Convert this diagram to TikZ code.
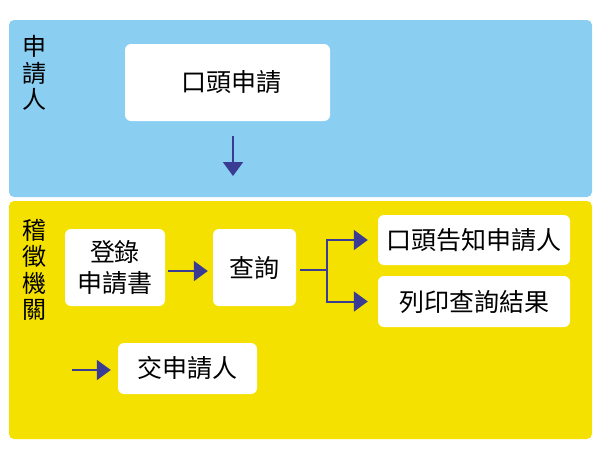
\documentclass[tikz,border=0pt]{standalone}
\usepackage{fontspec}
\setmainfont{Noto Sans CJK TC}
\usetikzlibrary{arrows.meta}
\definecolor{laneblue}{HTML}{8ACEF2}
\definecolor{laneyellow}{HTML}{F5E100}
\definecolor{arrowblue}{HTML}{3A3B92}
\tikzstyle{lane} = [draw=none, rounded corners=5pt]
\tikzstyle{box} = [fill=white, rounded corners=6pt, inner sep=0pt, align=center, font=\fontsize{25}{31}\selectfont]
\tikzstyle{lanelabel} = [inner sep=0pt, align=center, font=\fontsize{24}{26.5}\selectfont]
\tikzstyle{line} = [draw=arrowblue, line width=2pt, -{Triangle[length=14pt,width=20pt]}]

\begin{document}
\begin{tikzpicture}[x=1pt, y=-1pt]
    \useasboundingbox (0,0) rectangle (600,453);
    % lanes
    \fill [lane, laneblue] (9,20) rectangle (592,197);
    \fill [lane, laneyellow] (9,201) rectangle (592,439);
    \node [lanelabel] (applicant) at (34,73) {申\\請\\人};
    \node [lanelabel] (agency) at (34,270) {稽\\徵\\機\\關};
    % boxes
    \node [box, minimum width=205pt, minimum height=77pt] (oral) at (227.5,82.5) {\hspace*{8pt}口頭申請};
    \node [box, minimum width=100pt, minimum height=77pt] (register) at (115,267.5) {登錄\\申請書};
    \node [box, minimum width=83pt, minimum height=77pt] (query) at (254.5,267.5) {查詢};
    \node [box, minimum width=192pt, minimum height=50pt] (notify) at (474,240) {口頭告知申請人};
    \node [box, minimum width=192pt, minimum height=51pt] (print) at (474,301.5) {列印查詢結果};
    \node [box, minimum width=139pt, minimum height=51pt] (deliver) at (187.5,368.5) {交申請人};
    % free ends
    \coordinate (down top) at (233,136);
    \coordinate (down tip) at (233,176);
    \coordinate (fork) at (327,270);
    \coordinate (back start) at (72,370);
    % arrows
    \path [line] (down top) -- (down tip);
    \path [line] ([xshift=3pt]register.east |- 0,271) -- ([xshift=-5pt]query.west |- 0,271);
    \draw [arrowblue, line width=2pt] ([xshift=4pt]query.east |- fork) -- (fork);
    \path [line] (fork) |- ([xshift=-10pt]notify.west);
    \path [line] (fork) |- ([xshift=-10pt]print.west);
    \path [line] (back start) -- ([xshift=-7pt]deliver.west |- back start);
\end{tikzpicture}
\end{document}
